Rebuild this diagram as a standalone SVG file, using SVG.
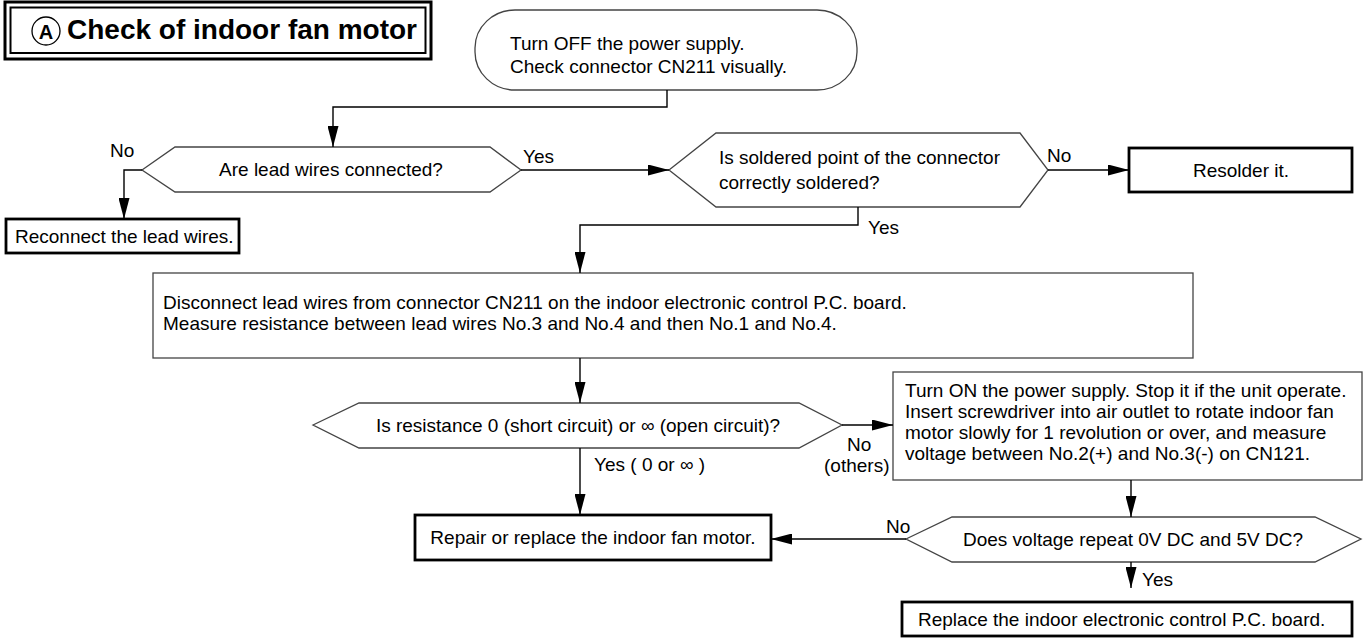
<svg xmlns="http://www.w3.org/2000/svg" width="1367" height="641" viewBox="0 0 1367 641">
<style>
text{font-family:"Liberation Sans",Arial,sans-serif;font-size:19px;fill:#000}
.thin{fill:#fff;stroke:#444;stroke-width:1.3}
.thick{fill:#fff;stroke:#000;stroke-width:2.8}
.ln{fill:none;stroke:#000;stroke-width:1.4}
.mid{text-anchor:middle}
</style>
<defs>
<marker id="ah" markerUnits="userSpaceOnUse" markerWidth="21" markerHeight="11" refX="21" refY="5.5" orient="auto"><path d="M0,0 L21,5.5 L0,11 z" fill="#000"/></marker>
</defs>
<rect width="1367" height="641" fill="#fff"/>
<g id="title">
<rect x="5" y="2" width="426" height="57" fill="#fff" stroke="#000" stroke-width="3"/>
<rect x="10.5" y="7.5" width="415" height="45.5" fill="none" stroke="#000" stroke-width="2"/>
<circle cx="46" cy="31" r="14" fill="none" stroke="#000" stroke-width="1.3"/>
<text x="46" y="38.5" class="mid" style="font-size:20px;font-weight:bold">A</text>
<text x="67" y="39" style="font-size:28px;font-weight:bold">Check of indoor fan motor</text>
</g>
<g id="start">
<rect x="475" y="10" width="382" height="80" rx="40" ry="38" class="thin"/>
<text x="510" y="50">Turn OFF the power supply.</text>
<text x="510" y="73">Check connector CN211 visually.</text>
</g>
<g id="q-connected">
<polygon points="142,170 175,147 490,147 521,170 490,192 175,192" class="thin"/>
<text x="331" y="176" class="mid">Are lead wires connected?</text>
</g>
<g id="reconnect">
<rect x="6" y="219" width="233" height="34" class="thick"/>
<text x="15" y="243">Reconnect the lead wires.</text>
</g>
<g id="q-soldered">
<polygon points="669,170 716,133 1020,133 1048,170 1020,207 716,207" class="thin"/>
<text x="719" y="164">Is soldered point of the connector</text>
<text x="719" y="189">correctly soldered?</text>
</g>
<g id="resolder">
<rect x="1129" y="148" width="223" height="44" class="thick"/>
<text x="1241" y="177" class="mid">Resolder it.</text>
</g>
<g id="measure">
<rect x="153" y="273" width="1040" height="85" class="thin"/>
<text x="163" y="309">Disconnect lead wires from connector CN211 on the indoor electronic control P.C. board.</text>
<text x="163" y="330">Measure resistance between lead wires No.3 and No.4 and then No.1 and No.4.</text>
</g>
<g id="q-resistance">
<polygon points="313,425 359,403 799,403 842,425 799,448 359,448" class="thin"/>
<text x="578" y="432" class="mid">Is resistance 0 (short circuit) or ∞ (open circuit)?</text>
</g>
<g id="turn-on">
<rect x="893" y="372" width="469" height="108" class="thin"/>
<text x="905" y="397">Turn ON the power supply. Stop it if the unit operate.</text>
<text x="905" y="418">Insert screwdriver into air outlet to rotate indoor fan</text>
<text x="905" y="439">motor slowly for 1 revolution or over, and measure</text>
<text x="905" y="460">voltage between No.2(+) and No.3(-) on CN121.</text>
</g>
<g id="repair">
<rect x="415" y="515" width="356" height="45" class="thick"/>
<text x="593" y="544" class="mid">Repair or replace the indoor fan motor.</text>
</g>
<g id="q-voltage">
<polygon points="906,539 952,517 1315,517 1361,539 1315,562 952,562" class="thin"/>
<text x="1133" y="546" class="mid">Does voltage repeat 0V DC and 5V DC?</text>
</g>
<g id="replace">
<rect x="902" y="602" width="450" height="34" class="thick"/>
<text x="918" y="626">Replace the indoor electronic control P.C. board.</text>
</g>
<g id="connectors">
<polyline points="667,90 667,107 333,107 333,147" class="ln" marker-end="url(#ah)"/>
<polyline points="142,170 124,170 124,219" class="ln" marker-end="url(#ah)"/>
<line x1="521" y1="170" x2="669" y2="170" class="ln" marker-end="url(#ah)"/>
<line x1="1048" y1="170" x2="1129" y2="170" class="ln" marker-end="url(#ah)"/>
<polyline points="858,207 858,225 580,225 580,273" class="ln" marker-end="url(#ah)"/>
<line x1="580" y1="358" x2="580" y2="403" class="ln" marker-end="url(#ah)"/>
<line x1="842" y1="425" x2="893" y2="425" class="ln" marker-end="url(#ah)"/>
<line x1="580" y1="448" x2="580" y2="515" class="ln" marker-end="url(#ah)"/>
<line x1="1131" y1="480" x2="1131" y2="517" class="ln" marker-end="url(#ah)"/>
<line x1="906" y1="539" x2="771" y2="539" class="ln" marker-end="url(#ah)"/>
<line x1="1131" y1="562" x2="1131" y2="588" class="ln" marker-end="url(#ah)"/>
<text x="110" y="157">No</text>
<text x="523" y="163">Yes</text>
<text x="1047" y="162">No</text>
<text x="868" y="234">Yes</text>
<text x="847" y="451">No</text>
<text x="824" y="472">(others)</text>
<text x="594" y="471">Yes ( 0 or ∞ )</text>
<text x="886" y="533">No</text>
<text x="1142" y="586">Yes</text>
</g>
</svg>
